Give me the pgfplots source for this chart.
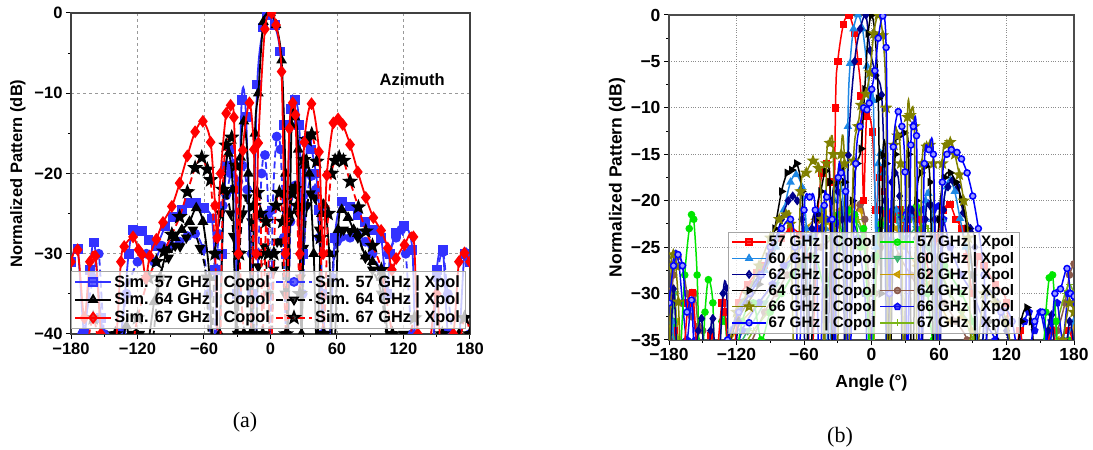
\documentclass[border=0pt]{standalone}
\usepackage{pgfplots}
\pgfplotsset{compat=1.18}
\usepackage{fontspec}
\setmainfont{Liberation Sans}
\newfontfamily\serifrm{Liberation Serif}
\usetikzlibrary{plotmarks}

\definecolor{lb}{RGB}{50,50,255}
\definecolor{c60}{RGB}{30,136,229}
\definecolor{c62}{RGB}{0,0,139}
\definecolor{c66}{RGB}{128,128,0}
\definecolor{c67}{RGB}{0,0,255}
\definecolor{x57}{RGB}{0,230,0}
\definecolor{x60}{RGB}{60,179,113}
\definecolor{x62}{RGB}{200,155,0}
\definecolor{x64}{RGB}{139,90,75}
\definecolor{x66}{RGB}{10,10,240}
\definecolor{x67}{RGB}{124,181,24}

\pgfdeclareplotmark{fstar}{%
 \pgfpathmoveto{\pgfpointpolar{90}{1.3\pgfplotmarksize}}%
 \pgfpathlineto{\pgfpointpolar{126}{0.55\pgfplotmarksize}}%
 \pgfpathlineto{\pgfpointpolar{162}{1.3\pgfplotmarksize}}%
 \pgfpathlineto{\pgfpointpolar{198}{0.55\pgfplotmarksize}}%
 \pgfpathlineto{\pgfpointpolar{234}{1.3\pgfplotmarksize}}%
 \pgfpathlineto{\pgfpointpolar{270}{0.55\pgfplotmarksize}}%
 \pgfpathlineto{\pgfpointpolar{306}{1.3\pgfplotmarksize}}%
 \pgfpathlineto{\pgfpointpolar{342}{0.55\pgfplotmarksize}}%
 \pgfpathlineto{\pgfpointpolar{18}{1.3\pgfplotmarksize}}%
 \pgfpathlineto{\pgfpointpolar{54}{0.55\pgfplotmarksize}}%
 \pgfpathclose\pgfusepathqfillstroke}

\tikzset{
 Lco/.style={solid, line width=1.8pt, mark size=4pt},
 Lx/.style={line width=1.8pt, dash pattern=on 7pt off 4pt, mark size=4pt, mark options={solid}},
 L57c/.style={Lco, color=lb, mark=square*},
 L64c/.style={Lco, color=black, mark=triangle*, mark size=4.5pt},
 L67c/.style={Lco, color=red, mark=diamond*, mark size=5pt},
 L57x/.style={Lx, color=lb, mark=*, mark size=4pt},
 L64x/.style={Lx, color=black, mark=triangle*, mark size=4.5pt, mark options={solid, rotate=180}},
 L67x/.style={Lx, color=red, mark=fstar, mark size=4.5pt, mark options={solid, black, fill=black}},
 R/.style={solid, line width=1.5pt, mark size=3pt},
 R57c/.style={R, color=red, mark=square*},
 R60c/.style={R, color=c60, mark=triangle*, mark size=3.5pt},
 R62c/.style={R, color=c62, mark=diamond*, mark size=3.5pt},
 R64c/.style={R, color=black, mark=triangle*, mark size=3.5pt, mark options={rotate=-90}},
 R66c/.style={R, color=c66, mark=fstar, mark size=3.5pt},
 R67c/.style={R, color=c67, mark=*, mark options={fill=c67!40!white}},
 R57x/.style={R, color=x57, mark=*},
 R60x/.style={R, color=x60, mark=triangle*, mark size=3.5pt, mark options={rotate=180}},
 R62x/.style={R, color=x62, mark=triangle*, mark size=3.5pt, mark options={rotate=90}},
 R64x/.style={R, color=x64, mark=*},
 R66x/.style={R, color=x66, mark=pentagon*, mark size=3.3pt},
 R67x/.style={R, color=x67, mark=+, mark size=3.5pt},
}
\pgfplotsset{
 legL/.style={legend image code/.code={\draw[mark repeat=2,mark phase=2,##1] plot coordinates {(0pt,0pt) (18pt,0pt) (36pt,0pt)};}},
 legR/.style={legend image code/.code={\draw[mark repeat=2,mark phase=2,##1] plot coordinates {(0pt,0pt) (17pt,0pt) (34pt,0pt)};}},
}

\begin{document}
\begin{tikzpicture}
\useasboundingbox (0,0) rectangle (1093pt,450pt);

%===================== (a) =====================
\begin{axis}[
  at={(71pt,116pt)}, anchor=south west, scale only axis, width=399pt, height=321pt,
  xmin=-180, xmax=180, ymin=-40, ymax=0,
  xtick={-180,-120,-60,0,60,120,180},
  xticklabels={−180,−120,−60,0,60,120,180},
  ytick={-40,-30,-20,-10,0},
  yticklabels={−40,−30,−20,−10,0},
  minor xtick={-150,-90,-30,30,90,150},
  minor ytick={-35,-25,-15,-5},
  tick align=outside, xtick pos=bottom, ytick pos=left,
  major tick length=5pt, minor tick length=3pt,
  tick style={black, line width=1pt},
  grid=major, major grid style={gray!80, dashed, line width=0.7pt},
  axis line style={black!75, line width=1.2pt},
  ticklabel style={font=\fontsize{16.5}{18}\selectfont\bfseries},
  ylabel={Normalized Pattern (dB)},
  every axis y label/.style={at={(axis description cs:-0.133,0.5)}, rotate=90, anchor=center, font=\fontsize{16.5}{18}\selectfont\bfseries},
  clip marker paths=true,
  legend columns=2,
  legend cell align=left,
  legend style={at={(axis description cs:0.0,0.016)}, anchor=south west, draw=gray!70, fill=white, fill opacity=0.75, text opacity=1, draw opacity=1, font=\fontsize{16.3}{18}\selectfont\bfseries, nodes={inner sep=2.3pt}, /tikz/every even column/.append style={column sep=3pt}},
]
\addlegendimage{L57c, legL}\addlegendentry{Sim. 57 GHz | Copol}
\addlegendimage{L57x, legL}\addlegendentry{Sim. 57 GHz | Xpol}
\addlegendimage{L64c, legL}\addlegendentry{Sim. 64 GHz | Copol}
\addlegendimage{L64x, legL}\addlegendentry{Sim. 64 GHz | Xpol}
\addlegendimage{L67c, legL}\addlegendentry{Sim. 67 GHz | Copol}
\addlegendimage{L67x, legL}\addlegendentry{Sim. 67 GHz | Xpol}

\addplot[L57x, smooth, forget plot] coordinates {(-180,-45) (-170,-40) (-160,-33) (-155,-30) (-150,-40) (-140,-45) (-130,-35) (-120,-31) (-112,-30) (-105,-31) (-98,-29) (-90,-29) (-82,-28.5) (-75,-27.8) (-68,-27.5) (-61,-29.4) (-56,-35) (-52,-45) (-47,-27.5) (-43,-24) (-40,-22.7) (-36,-20) (-33.5,-18.8) (-29,-21) (-25.3,-19) (-21,-22) (-17,-30) (-14,-45) (-11,-30) (-8,-20) (-5,-17.7) (-2,-25) (0,-45) (2,-24.5) (5.6,-15.4) (9,-17) (12,-28) (15,-45) (18,-26) (22.2,-21.5) (26,-24) (29,-35) (32,-24) (37,-20.3) (41,-22) (44,-28) (47,-40) (52,-45) (56,-33) (60,-28.5) (64.3,-27.9) (71.8,-28) (78,-27.5) (85.6,-28.5) (92,-30) (100,-32) (106,-30) (113.3,-28) (118,-27) (122,-30) (128,-40) (140,-45) (150,-33) (155.5,-29.8) (160,-35) (170,-45) (180,-40)};

\addplot[L64x, smooth, forget plot] coordinates {(-180,-45) (-165,-45) (-150,-42) (-140,-45) (-125,-40) (-118,-40) (-110,-45) (-100,-33) (-92,-30.5) (-86,-29) (-81.6,-29.1) (-76,-28) (-70,-27) (-63.6,-29.3) (-58,-33) (-54,-45) (-50,-30) (-45,-25) (-40,-22.5) (-36,-25) (-33.5,-27.8) (-30,-40) (-28,-30) (-25,-25) (-21,-23) (-17,-26) (-14,-45) (-11,-31.6) (-8,-30) (-5.5,-29.1) (-2,-35) (0,-45) (3,-32) (6,-28.5) (9.5,-28.5) (13,-35) (16.9,-26.1) (20,-22) (22.2,-21.7) (25,-25) (27,-33) (29.8,-29.3) (33,-24) (36,-22.5) (40,-23) (44,-27) (48,-40) (52,-45) (57,-30) (62,-27.5) (66,-27) (71.8,-27.2) (78.8,-28) (85.6,-30.5) (92,-32) (100,-35) (110,-45) (120,-40) (130,-45) (150,-45) (165,-42) (180,-45)};

\addplot[L57c, smooth, forget plot] coordinates {(-180,-31) (-174,-29.4) (-168,-40) (-163,-32) (-159,-28.6) (-153,-38) (-145,-45) (-135,-40) (-128,-30) (-124,-27) (-116,-27.2) (-110,-28.3) (-103,-29) (-95,-26.6) (-88,-25.4) (-80,-24.5) (-74,-23.7) (-67,-23.7) (-60,-24.3) (-53,-25.6) (-50,-32) (-47,-45) (-44,-30) (-40,-19) (-36,-17) (-32,-22) (-30,-35) (-26,-10.8) (-22,-13) (-17,-35) (-12,-8.9) (-6.5,-1.8) (-3,-0.3) (0,0) (4,-1.5) (8.6,-4.8) (12,-14) (14,-30) (18,-12) (22,-10.8) (26,-14) (29,-30) (33,-16) (37,-17) (41,-20) (44,-24.5) (47,-35) (52,-45) (58,-28) (64.3,-23.5) (71.8,-24.1) (78.5,-25.2) (85.6,-26) (92.8,-27) (99.8,-28) (105,-35) (108,-30) (113.3,-27.4) (120.8,-26.5) (128,-29.5) (132,-45) (145,-45) (150,-32) (155.5,-29.5) (160,-40) (168,-45) (175,-30) (180,-31)};

\addplot[L64c, smooth, forget plot] coordinates {(-180,-45) (-170,-42) (-160,-45) (-150,-45) (-140,-45) (-130,-39) (-125,-45) (-115,-45) (-105,-36) (-100,-33) (-93,-29.5) (-86,-28) (-80,-27) (-73,-26) (-67,-24.3) (-61,-26) (-55,-33) (-52,-45) (-46,-40) (-42,-22) (-38,-17.5) (-34,-22) (-31,-40) (-27,-18) (-24,-13.5) (-20,-20) (-17,-40) (-14,-15) (-11,-10) (-6.4,-1.1) (0,0) (5,-1.5) (10,-5.9) (13.5,-20) (15.5,-40) (19,-14) (22,-13) (25,-17) (28,-40) (31,-19) (35,-20) (39,-30) (42,-42) (46,-25) (49,-24) (53,-30) (57,-45) (61,-27) (64.3,-24.5) (70,-25.5) (75,-27) (78.5,-27.5) (85.6,-30.3) (92,-31) (100,-33) (110,-45) (120,-45) (135,-45) (150,-42) (160,-45) (170,-40) (180,-45)};

\addplot[L67x, smooth, forget plot] coordinates {(-180,-42) (-170,-45) (-160,-38) (-150,-45) (-140,-40) (-130,-45) (-120,-38) (-110,-33) (-103,-31) (-96,-29.7) (-89,-27.6) (-82,-25.4) (-75,-22.3) (-68,-19.3) (-62,-18) (-57,-19.5) (-54,-20.8) (-50,-30) (-46,-45) (-43,-22) (-40,-16.5) (-35,-15.5) (-31,-19) (-28,-30) (-24,-40) (-18,-40) (-15,-24) (-12,-22.4) (-9,-25) (-7,-40) (-4,-26) (-2,-30) (0,-45) (3,-30) (5,-24) (8,-22.4) (11,-26) (14,-40) (17,-25) (20,-22.5) (22.2,-21.9) (24,-24) (26.5,-35) (29.7,-18.3) (33,-15.8) (37.2,-15.1) (41.7,-18.5) (45,-28) (48,-40) (52,-25) (55,-20) (58.3,-18.4) (62,-18) (65.8,-18.4) (71.8,-21) (79.3,-24.2) (86,-27.2) (92,-29) (100,-32) (110,-40) (120,-45) (130,-38) (140,-45) (155,-40) (165,-45) (175,-38) (180,-40)};

\addplot[L67c, smooth, forget plot] coordinates {(-180,-31) (-174,-29.5) (-168,-38) (-163,-31) (-158,-30.3) (-153,-40) (-148,-45) (-140,-42) (-135,-31) (-132,-29.1) (-124,-27.9) (-119,-29.5) (-116,-30.1) (-112.5,-33) (-109,-30.3) (-103,-28.2) (-97,-26.1) (-89,-24.1) (-82,-21.2) (-75,-17.8) (-68,-14.8) (-61,-13.5) (-54,-16.1) (-50,-24) (-48,-28) (-45,-20) (-40,-12.5) (-36,-11.5) (-33,-13) (-29,-30) (-25,-17.1) (-19,-11.2) (-15,-17) (-13,-30) (-11,-16.2) (-5,-2) (1,0) (5,-1.5) (10,-7.3) (13.5,-30) (17,-14.4) (20,-11.2) (22.5,-12.7) (26.5,-30) (30.5,-16.1) (37,-11.3) (43.8,-17.3) (47.5,-30) (50.8,-20.2) (56.7,-13.7) (61,-13.2) (65.2,-13.9) (71.8,-16.4) (78.8,-19.8) (86,-23) (92.8,-25.5) (99.8,-27.1) (105.8,-29.3) (109.5,-32) (113.3,-30.6) (120.8,-28.9) (129,-27.9) (133,-40) (140,-45) (150,-35) (155,-45) (165,-40) (170,-31) (175,-29.9) (180,-31)};

\node[font=\fontsize{16.5}{18}\selectfont\bfseries] at (axis description cs:0.855,0.791) {Azimuth};
\end{axis}

%===================== (b) =====================
\begin{axis}[
  at={(669pt,110pt)}, anchor=south west, scale only axis, width=405pt, height=325pt,
  xmin=-180, xmax=180, ymin=-35, ymax=0,
  xtick={-180,-120,-60,0,60,120,180},
  xticklabels={−180,−120,−60,0,60,120,180},
  ytick={-35,-30,-25,-20,-15,-10,-5,0},
  yticklabels={−35,−30,−25,−20,−15,−10,−5,0},
  minor xtick={-150,-90,-30,30,90,150},
  minor ytick={-32.5,-27.5,-22.5,-17.5,-12.5,-7.5,-2.5},
  tick align=outside, xtick pos=bottom, ytick pos=left,
  major tick length=5pt, minor tick length=3pt,
  tick style={black, line width=1pt},
  grid=major, major grid style={gray!90, dotted, line width=0.9pt},
  axis line style={black!70, line width=1.3pt},
  ticklabel style={font=\fontsize{17.5}{19}\selectfont\bfseries},
  xlabel={Angle (°)},
  ylabel={Normalized Pattern (dB)},
  every axis x label/.style={at={(axis description cs:0.5,-0.132)}, anchor=center, font=\fontsize{17.5}{19}\selectfont\bfseries},
  every axis y label/.style={at={(axis description cs:-0.128,0.5)}, rotate=90, anchor=center, font=\fontsize{17.5}{19}\selectfont\bfseries},
  clip marker paths=true,
  legend columns=2,
  legend cell align=left,
  legend style={at={(axis description cs:0.146,0.0215)}, anchor=south west, draw=gray!70, fill=white, fill opacity=0.75, text opacity=1, draw opacity=1, font=\fontsize{15.2}{17}\selectfont\bfseries, nodes={inner sep=1.8pt}, /tikz/every even column/.append style={column sep=2pt}},
]
\addlegendimage{R57c, legR}\addlegendentry{57 GHz | Copol}
\addlegendimage{R57x, legR}\addlegendentry{57 GHz | Xpol}
\addlegendimage{R60c, legR}\addlegendentry{60 GHz | Copol}
\addlegendimage{R60x, legR}\addlegendentry{60 GHz | Xpol}
\addlegendimage{R62c, legR}\addlegendentry{62 GHz | Copol}
\addlegendimage{R62x, legR}\addlegendentry{62 GHz | Xpol}
\addlegendimage{R64c, legR}\addlegendentry{64 GHz | Copol}
\addlegendimage{R64x, legR}\addlegendentry{64 GHz | Xpol}
\addlegendimage{R66c, legR}\addlegendentry{66 GHz | Copol}
\addlegendimage{R66x, legR}\addlegendentry{66 GHz | Xpol}
\addlegendimage{R67c, legR}\addlegendentry{67 GHz | Copol}
\addlegendimage{R67x, legR}\addlegendentry{67 GHz | Xpol}

\addplot[R60x, smooth, forget plot] coordinates {(-180,-40) (-175,-30) (-170,-40) (-150,-40) (-130,-38) (-110,-34) (-95,-31) (-85,-29) (-75,-27) (-65,-25) (-55,-24) (-45,-23) (-35,-22) (-28,-25) (-22,-21.5) (-15,-22) (-8,-24) (-3,-30) (0,-40) (3,-30) (8,-23) (15,-21.5) (22,-22) (30,-24) (40,-23) (50,-25) (60,-27.5) (70,-30) (80,-32) (90,-34) (100,-40) (130,-40) (150,-36) (160,-33) (170,-40) (180,-36)};

\addplot[R62x, smooth, forget plot] coordinates {(-180,-35) (-177,-29.5) (-173,-33) (-168,-40) (-150,-40) (-130,-36) (-115,-33) (-100,-31) (-88,-29) (-78,-27) (-68,-25) (-58,-23) (-50,-22) (-42,-21.5) (-35,-23) (-28,-21) (-22,-21) (-16,-20.5) (-10,-21) (-5,-25) (0,-40) (5,-26) (10,-22) (16,-22) (22,-23) (30,-25) (40,-27) (50,-29) (60,-31) (70,-33) (80,-32.5) (90,-34) (100,-40) (130,-40) (150,-37) (165,-35) (172,-40) (180,-33)};

\addplot[R64x, smooth, forget plot] coordinates {(-180,-33) (-176,-28) (-172,-26) (-168,-27) (-164,-30) (-160,-32.5) (-157,-30) (-154,-33.5) (-150,-34) (-146,-40) (-130,-40) (-110,-36) (-95,-32) (-85,-30) (-75,-28) (-65,-27) (-55,-26) (-45,-25) (-35,-24) (-25,-22) (-15,-21.5) (-10,-20.4) (-6,-22) (-2,-30) (0,-40) (3,-30) (8,-25) (15,-23) (25,-26) (35,-28) (45,-30) (55,-29.5) (65,-31) (75,-33) (85,-35) (95,-40) (130,-40) (150,-38) (165,-34) (172,-31) (176,-28) (180,-26.8)};

\addplot[R67x, smooth, forget plot] coordinates {(-180,-37) (-176,-30) (-172,-35) (-165,-40) (-140,-40) (-120,-37) (-105,-34) (-92,-32) (-80,-30) (-70,-28) (-60,-26) (-50,-24) (-42,-22.5) (-35,-22) (-28,-21.5) (-20,-21.5) (-12,-22) (-6,-25) (-2,-35) (0,-40) (3,-30) (8,-23) (14,-21) (20,-21.5) (28,-21) (35,-22) (42,-21.5) (50,-23) (60,-27) (70,-30) (80,-32) (90,-35) (100,-40) (140,-40) (155,-36) (165,-33) (172,-30) (176,-29) (180,-30)};

\addplot[R66x, smooth, forget plot] coordinates {(-180,-32) (-177,-27) (-174,-25.7) (-171,-27) (-168,-31) (-164,-35) (-160,-30.8) (-156,-35) (-152,-40) (-130,-40) (-115,-34) (-100,-31) (-88,-29) (-78,-27) (-68,-26) (-58,-24) (-48,-23) (-40,-22) (-32,-22.5) (-25,-21.5) (-18,-22) (-12,-24) (-6,-30) (-2,-40) (3,-26) (9,-21) (14,-21.5) (19.4,-21) (26,-21.5) (32.9,-21) (40,-22) (45,-21) (50.5,-20.3) (55,-21) (59.4,-20.6) (64,-22) (70,-25) (80,-28) (90,-30) (100,-33) (110,-35) (120,-40) (130,-36) (136,-33) (140,-32) (145,-34) (150,-32) (156,-35) (160,-33) (165,-31) (170,-35) (175,-30) (180,-31)};

\addplot[R57x, smooth, forget plot] coordinates {(-180,-40) (-176,-33) (-172,-40) (-166,-28) (-162,-23) (-160,-21.5) (-158,-22) (-155,-28) (-152,-40) (-148,-32) (-145,-28.5) (-141,-31) (-139,-40) (-133,-33) (-130,-33) (-125,-40) (-115,-33) (-105,-31) (-98,-35) (-90,-32) (-80,-30) (-70,-28) (-60,-27) (-50,-26) (-40,-30) (-35,-24) (-30,-21.5) (-25,-24) (-20,-21) (-15,-21.5) (-10,-25) (-7,-23) (-4,-30) (0,-40) (4,-26) (8,-22.5) (13,-21) (18,-22) (22,-21.3) (28,-22) (34,-21.5) (40,-20.6) (45,-23) (50,-30) (55,-35) (60,-28) (65,-27) (70,-28) (80,-30) (90,-33) (100,-40) (120,-40) (140,-38) (150,-40) (155,-32) (158,-28.3) (161,-28) (164,-33) (168,-40) (175,-35) (180,-37)};

\addplot[R57c, smooth, forget plot] coordinates {(-180,-40) (-175,-34) (-170,-40) (-163,-31) (-159,-29.9) (-155,-36) (-150,-40) (-143,-34.5) (-140,-40) (-133,-31) (-130,-32) (-125,-40) (-118,-31) (-110,-29) (-102,-27.8) (-95,-27) (-88,-25) (-80,-24) (-72,-23) (-63.6,-23.7) (-58,-26) (-54,-40) (-48,-22) (-44,-17) (-40,-16) (-37,-18) (-35,-40) (-32,-10) (-30,-5) (-25,-1) (-20,0) (-15,-2) (-12,-5) (-9.3,-8.7) (-7,-20) (-4.3,-10.9) (0.7,-12.6) (4,-21) (7,-17.5) (9,-16.5) (11.5,-19) (13.5,-21.4) (18,-22) (25,-21) (30,-23) (35,-21.5) (42,-22) (48,-26) (53,-28) (58,-24) (64,-21) (69.8,-20.4) (75,-22) (80,-23) (85,-26) (90,-30) (95,-26) (100,-27) (110,-29) (120,-31) (125,-40) (132,-34) (138,-40) (145,-36) (150,-40) (160,-34) (170,-40) (175,-34) (180,-36)};

\addplot[R60c, smooth, forget plot] coordinates {(-180,-40) (-177,-33) (-173,-40) (-160,-40) (-150,-37) (-140,-40) (-125,-34) (-115,-31) (-105,-29) (-95,-27.5) (-85,-25) (-78,-21) (-72,-18) (-67,-17.2) (-62,-18.5) (-58,-23) (-55,-40) (-50,-24) (-45,-21) (-41,-23) (-38,-40) (-33,-20) (-29,-18) (-25,-21) (-23,-40) (-21,-12) (-19,-5.2) (-16,-1.5) (-12,0) (-8,-1.5) (-4,-5.5) (-1,-9) (1.6,-9.2) (4,-25) (6,-16) (8,-14.9) (11,-17) (14,-40) (18,-24) (22,-21) (26,-25) (30,-22) (35,-21.5) (40,-24) (44,-30) (48,-20) (50.5,-19.2) (54,-22) (58,-40) (63,-22) (67,-18.5) (70,-17.8) (74,-19) (78.7,-21.9) (84,-25) (90,-28) (96,-40) (102,-30) (110,-31) (120,-33) (128,-40) (140,-40) (150,-38) (160,-40) (170,-36) (180,-33)};

\addplot[R62c, smooth, forget plot] coordinates {(-180,-40) (-176,-29.5) (-173,-36) (-168,-40) (-160,-40) (-154,-34) (-151,-32.7) (-147,-40) (-143,-34) (-141,-32.7) (-137,-40) (-132,-30) (-129,-29.4) (-125,-40) (-118,-33) (-110,-30) (-100,-28) (-90,-26) (-80,-22) (-74,-20) (-70,-19.5) (-66,-20) (-62,-22) (-58,-40) (-53,-23) (-48,-21.5) (-44,-23) (-40,-40) (-35,-20) (-30,-19) (-26,-22) (-23,-40) (-20.6,-15.1) (-15,-5) (-10,-1.5) (-5,0) (-1.3,-3.8) (4,-6.5) (9,-8.6) (12,-20) (14,-40) (18,-18) (21,-17) (25,-19.5) (28,-40) (32,-22) (36,-21) (40,-24) (44,-40) (48,-22) (52,-20.5) (56,-22) (60,-40) (64,-21) (68,-18.5) (72,-17.8) (77,-18.5) (81.6,-21.3) (88,-23) (92,-25) (96,-40) (102,-30) (112,-31) (120,-34) (130,-40) (150,-40) (157,-34) (160.2,-32.3) (165,-40) (170,-40) (176,-33) (180,-36)};

\addplot[R64c, smooth, forget plot] coordinates {(-180,-40) (-170,-40) (-160,-40) (-150,-38) (-140,-40) (-128,-36) (-120,-33) (-110,-31) (-100,-29) (-92,-26) (-86,-23) (-80,-19) (-75,-17) (-70.9,-16.7) (-66.5,-16) (-62,-19) (-58,-30) (-55,-40) (-49,-22) (-45,-19) (-41,-16.8) (-37,-18) (-34,-40) (-30,-18) (-27,-16.5) (-24,-18) (-21,-40) (-17,-20) (-13,-16) (-9.3,-14.4) (-6,-8) (-3,-2) (0,0) (3,-2) (6,-9) (8.5,-30) (10,-15.1) (13,-16) (16,-40) (21,-15) (25,-13) (29,-12.7) (33,-15) (36,-40) (40,-20) (44,-17) (48,-16.3) (52,-18) (56,-40) (60,-22) (65,-17.5) (70,-17) (75,-18) (80,-19.8) (85,-23) (90,-28) (95,-40) (105,-33) (115,-36) (125,-40) (133,-33) (138,-31.5) (142,-33) (148,-40) (155,-38) (165,-36) (170,-40) (180,-38)};

\addplot[R66c, smooth, forget plot] coordinates {(-180,-40) (-178,-27) (-176.2,-25.8) (-174,-27) (-171.7,-30.9) (-168,-40) (-162,-36) (-155,-40) (-145,-40) (-135,-40) (-120,-32) (-110,-30) (-100,-27) (-90,-24) (-82,-22) (-76,-21.5) (-72,-22.5) (-68,-40) (-63,-19) (-58,-17) (-52,-15.7) (-47,-16.5) (-44,-22) (-42,-40) (-40,-16) (-37,-13.8) (-34,-15) (-31,-40) (-27,-15) (-24,-16) (-21,-40) (-16,-15.7) (-12,-12) (-9.3,-9.7) (-5,-8.5) (-1.3,-6.2) (2,-2) (6,0) (10,-2.2) (13,-10) (15,-40) (20,-14) (23,-13) (26,-16) (29,-40) (32,-11) (34.5,-10.8) (38,-12) (41,-40) (45,-16) (49,-14.2) (52,-14) (55,-16) (58,-40) (63,-16) (67,-14) (70,-13.7) (74,-15) (78,-17.2) (82,-20) (86,-24) (90,-40) (100,-30) (110,-31) (120,-33) (130,-40) (145,-38) (160,-40) (170,-35) (176,-31) (180,-32)};

\addplot[R67c, smooth, forget plot] coordinates {(-180,-31) (-176,-27) (-172,-25.8) (-168,-27) (-164,-32) (-160,-30.7) (-156,-40) (-150,-40) (-140,-40) (-128,-35) (-118,-32) (-108,-30) (-98,-28) (-90,-25) (-80,-23) (-72,-22) (-68,-25) (-65,-40) (-60,-21) (-55,-19.6) (-50,-21) (-46,-40) (-42,-20.5) (-39.8,-19.6) (-35,-22) (-33,-40) (-29.5,-17.5) (-27,-17) (-23,-19) (-20,-40) (-14,-16) (-10.2,-12) (-7,-10) (-4,-10.2) (-2,-9.5) (0.2,-8) (3,-6) (6,-2.5) (10,-0.1) (13,-3.5) (16,-30) (19.4,-14.2) (23.8,-10.4) (27,-12) (29.8,-16.9) (32,-40) (35,-14) (37.2,-12) (40,-13) (43,-40) (47,-16) (51,-14.5) (55,-15) (59,-40) (63,-18) (67,-15) (71,-14.5) (76,-14.8) (80,-15.5) (85,-17) (90,-19.5) (95,-23) (100,-28) (105,-40) (115,-32) (125,-33) (135,-40) (145,-33) (152,-32) (158,-36) (163,-30) (168,-29.5) (173.8,-27.3) (177,-30) (180,-30.3)};
\end{axis}

\node[font=\serifrm\fontsize{22}{24}\selectfont] at (245pt,28pt) {(a)};
\node[font=\serifrm\fontsize{22}{24}\selectfont] at (840pt,13pt) {(b)};
\end{tikzpicture}
\end{document}
